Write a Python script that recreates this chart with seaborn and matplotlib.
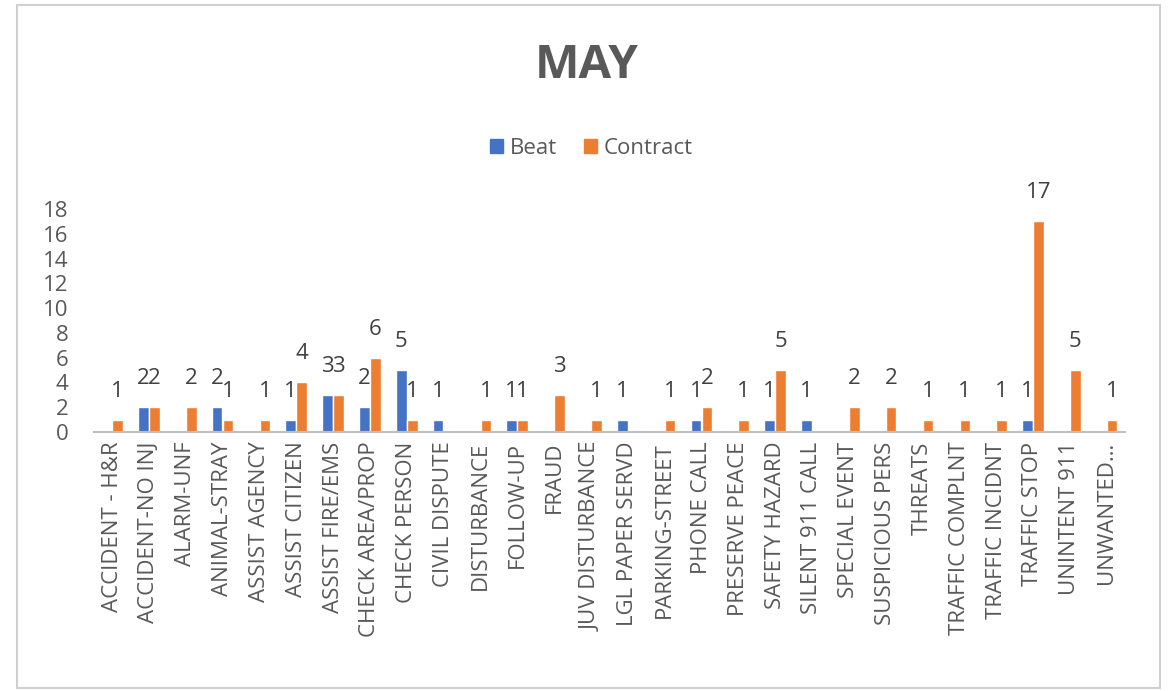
import pandas as pd
import seaborn as sns
import matplotlib.pyplot as plt
from matplotlib.patches import Rectangle

categories = ['ACCIDENT - H&R', 'ACCIDENT-NO INJ', 'ALARM-UNF', 'ANIMAL-STRAY',
              'ASSIST AGENCY', 'ASSIST CITIZEN', 'ASSIST FIRE/EMS', 'CHECK AREA/PROP',
              'CHECK PERSON', 'CIVIL DISPUTE', 'DISTURBANCE', 'FOLLOW-UP', 'FRAUD',
              'JUV DISTURBANCE', 'LGL PAPER SERVD', 'PARKING-STREET', 'PHONE CALL',
              'PRESERVE PEACE', 'SAFETY HAZARD', 'SILENT 911 CALL', 'SPECIAL EVENT',
              'SUSPICIOUS PERS', 'THREATS', 'TRAFFIC COMPLNT', 'TRAFFIC INCIDNT',
              'TRAFFIC STOP', 'UNINTENT 911', 'UNWANTED…']
beat = [0, 2, 0, 2, 0, 1, 3, 2, 5, 1, 0, 1, 0, 0, 1, 0, 1, 0, 1, 1, 0, 0, 0, 0, 0, 1, 0, 0]
contract = [1, 2, 2, 1, 1, 4, 3, 6, 1, 0, 1, 1, 3, 1, 0, 1, 2, 1, 5, 0, 2, 2, 1, 1, 1, 17, 5, 1]
series = ['Beat', 'Contract']
colors = ['#4472C4', '#ED7D31']

sns.set_style('white')
plt.rcParams['font.family'] = ['Open Sans', 'DejaVu Sans']
text_grey = '#595959'

df = pd.DataFrame({
    'category': categories * 2,
    'series': ['Beat'] * len(categories) + ['Contract'] * len(categories),
    'count': beat + contract,
})

fig = plt.figure(figsize=(11.69, 6.91), dpi=100)
ax = fig.add_axes([0.0801, 0.3748, 0.8823, 0.3227])

sns.barplot(df, x='category', y='count', hue='series', hue_order=series,
            palette=colors, width=0.6, gap=0.04, saturation=1, ax=ax, legend=False)

# data labels, skip the empty ones like excel does
for cont in ax.containers:
    labels = [f'{b.get_height():g}' if b.get_height() > 0 else '' for b in cont]
    ax.bar_label(cont, labels=labels, padding=13, fontsize=16, color='#404040')

ax.set_ylim(0, 18)
ax.set_yticks(range(0, 19, 2))
ax.set_xlabel('')
ax.set_ylabel('')
for s in ['top', 'right', 'left']:
    ax.spines[s].set_visible(False)
ax.spines['bottom'].set_color('#bfbfbf')
ax.spines['bottom'].set_linewidth(1.5)
ax.tick_params(axis='y', length=0, pad=18, labelsize=16, labelcolor=text_grey)
ax.tick_params(axis='x', length=0, pad=7, labelsize=16, labelcolor=text_grey, labelrotation=90)

fig.text(0.502, 1 - 66 / 691, 'MAY', ha='center', va='center', fontsize=34,
         fontweight='bold', color=text_grey)

handles = [Rectangle((0, 0), 1, 1, color=c) for c in colors]
fig.legend(handles, series, loc='center', bbox_to_anchor=(0.506, 1 - 148 / 691), ncol=2,
           frameon=False, fontsize=16, labelcolor=text_grey, handlelength=0.6,
           handleheight=0.6, handletextpad=0.3, columnspacing=1.2)

fig.patches.append(Rectangle((17 / 1169, 3 / 691), 1143 / 1169, 683 / 691,
                             transform=fig.transFigure, fill=False,
                             edgecolor='#d0d0d0', linewidth=1.5))

fig.savefig('out.png', dpi=100)
